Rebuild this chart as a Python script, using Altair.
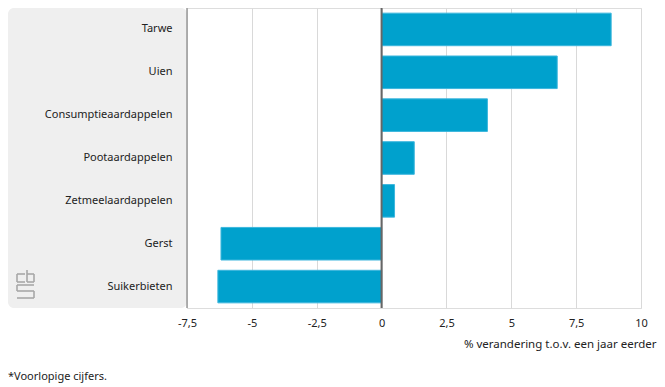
import altair as alt
import pandas as pd

categories = ["Tarwe", "Uien", "Consumptieaardappelen", "Pootaardappelen",
              "Zetmeelaardappelen", "Gerst", "Suikerbieten"]
values = [8.85, 6.77, 4.08, 1.26, 0.5, -6.19, -6.31]
tick_values = [-7.5, -5, -2.5, 0, 2.5, 5, 7.5, 10]
axis_title = "% verandering t.o.v. een jaar eerder"
footnote = "*Voorlopige cijfers."

W, H = 454, 300
PAD_L = 179
PAD_R = 16
FONT = "Noto Sans"

df = pd.DataFrame({"cat": categories, "val": values})
one = pd.DataFrame({"d": [0]})

xscale = alt.Scale(domain=[-7.5, 10], nice=False, zero=False)

panel = alt.Chart(one).mark_rect(color="#efefef", cornerRadius=6).encode(
    x=alt.value(-PAD_L), x2=alt.value(0), y=alt.value(0), y2=alt.value(H)
)

bars = alt.Chart(df).mark_bar(color="#00a1cd", stroke="#3cb6dd", strokeWidth=1).encode(
    x=alt.X("val:Q", scale=xscale,
            axis=alt.Axis(values=tick_values, title=axis_title, grid=True,
                          gridColor="#d9d9d9", gridWidth=1, ticks=False, domain=False,
                          labelExpr="replace(toString(datum.value), '.', ',')",
                          labelFlush=False, labelOverlap=False, labelBound=False,
                          labelFont=FONT, labelFontSize=11, labelColor="#222",
                          labelPadding=9,
                          titleFont=FONT, titleFontSize=11.5, titleFontWeight="normal",
                          titleColor="#222", titleX=W + PAD_R - 1, titleY=36,
                          titleAlign="right", titleBaseline="middle")),
    y=alt.Y("cat:N", sort=categories,
            scale=alt.Scale(paddingInner=0.24, paddingOuter=0.12),
            axis=alt.Axis(title=None, ticks=False, domain=False, grid=False,
                          labelFont=FONT, labelFontSize=11, labelColor="#222",
                          labelPadding=15, zindex=1)),
)

zdf = pd.DataFrame({"z": [0]})
zero = alt.Chart(zdf).mark_rule(color="#666666", strokeWidth=2).encode(x=alt.X("z:Q", scale=xscale))
ldf = pd.DataFrame({"z": [-7.5]})
left = alt.Chart(ldf).mark_rule(color="#999999", strokeWidth=1.5).encode(x=alt.X("z:Q", scale=xscale))

fn = alt.Chart(pd.DataFrame({"t": [footnote]})).mark_text(
    align="left", baseline="middle", font=FONT, fontSize=11, color="#222"
).encode(text="t:N", x=alt.value(-PAD_L), y=alt.value(369))

# CBS logo (decoration), pixel segments relative to plot origin
ox, oy = 17 - 187, 262
segs = [
    (0, 4, 8, 4), (0, 4, 0, 12), (0, 12, 8, 12),
    (10, 0, 10, 12), (10, 4, 17, 4), (17, 4, 17, 12), (10, 12, 17, 12),
    (0, 15, 17, 15), (0, 15, 0, 21), (0, 21, 17, 21), (17, 21, 17, 28), (0, 28, 17, 28),
]
logo_layers = []
for (a, b, c, d) in segs:
    logo_layers.append(
        alt.Chart(one).mark_rule(color="#a8a8a8", strokeWidth=1.6).encode(
            x=alt.value(ox + a), x2=alt.value(ox + c),
            y=alt.value(oy + b), y2=alt.value(oy + d))
    )

chart = alt.layer(panel, bars, left, zero, fn, *logo_layers).properties(
    width=W, height=H,
    padding={"left": PAD_L, "top": 0, "right": PAD_R, "bottom": 75},
    autosize=alt.AutoSizeParams(type="none"),
).configure_view(stroke=None).configure(background="white")

chart.save("out.html", embed_options={"renderer": "svg", "actions": False})
